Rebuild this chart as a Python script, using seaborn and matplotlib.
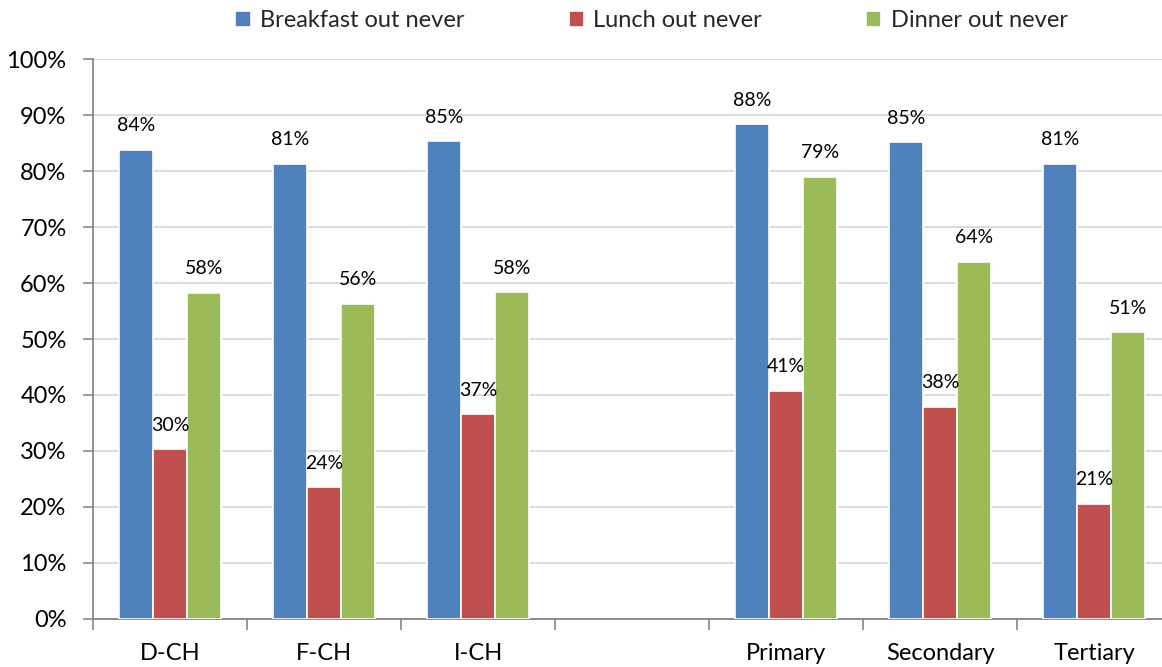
import matplotlib
matplotlib.use("Agg")
import matplotlib.pyplot as plt
from matplotlib.ticker import FixedLocator, PercentFormatter
import numpy as np
import pandas as pd
import seaborn as sns

# Share of respondents who never eat each meal out, by group
groups = ["D-CH", "F-CH", "I-CH", " ", "Primary", "Secondary", "Tertiary"]
breakfast = [83.8, 81.3, 85.3, np.nan, 88.4, 85.1, 81.3]
lunch = [30.3, 23.6, 36.6, np.nan, 40.8, 37.9, 20.6]
dinner = [58.3, 56.3, 58.4, np.nan, 79.0, 63.8, 51.2]
series_names = ["Breakfast out never", "Lunch out never", "Dinner out never"]
colors = ["#4F81BD", "#C0504D", "#9BBB59"]
y_ticks = [0, 10, 20, 30, 40, 50, 60, 70, 80, 90, 100]

df = pd.DataFrame({
    "group": groups * 3,
    "meal": [series_names[0]] * 7 + [series_names[1]] * 7 + [series_names[2]] * 7,
    "value": breakfast + lunch + dinner,
})

sns.set_theme(style="white")
plt.rcParams["font.family"] = ["Lato", "DejaVu Sans"]

fig = plt.figure(figsize=(11.62, 6.67), dpi=100)
ax = fig.add_axes([0.080, 0.072, 0.928, 0.8395])

sns.barplot(
    data=df, x="group", y="value", hue="meal", order=groups,
    hue_order=series_names, palette=colors, width=0.66, gap=0,
    edgecolor="white", linewidth=1.2, saturation=1, ax=ax, zorder=3,
    errorbar=None,
)

# Value labels above each bar
for container in ax.containers:
    labels = ["" if np.isnan(v) else f"{v:.0f}%" for v in container.datavalues]
    ax.bar_label(container, labels=labels, padding=11, fontsize=14, color="black")

ax.set_ylim(0, 100)
ax.set_xlim(-0.5, len(groups) - 0.5)
ax.set_yticks(y_ticks)
ax.yaxis.set_major_formatter(PercentFormatter(decimals=0))
ax.set_xlabel("")
ax.set_ylabel("")

# Category labels centred, tick marks at group boundaries
ax.set_xticks(range(len(groups)))
ax.set_xticklabels(groups)
ax.xaxis.set_minor_locator(FixedLocator(np.arange(-0.5, len(groups), 1.0)))
ax.tick_params(axis="x", which="major", length=0, labelsize=17, pad=17, colors="black")
ax.tick_params(axis="x", which="minor", length=8, width=1.2, color="#868686", bottom=True)
ax.tick_params(axis="y", which="major", length=7, width=1.2, labelsize=17,
               left=True, pad=12)
ax.tick_params(axis="y", labelcolor="black", color="#868686")

ax.grid(axis="y", color="#D9D9D9", linewidth=1.3, zorder=0)
ax.set_axisbelow(True)
for side in ["top", "right"]:
    ax.spines[side].set_visible(False)
for side in ["left", "bottom"]:
    ax.spines[side].set_color("#868686")
    ax.spines[side].set_linewidth(1.3)

leg = ax.legend(
    loc="center", bbox_to_anchor=(0.518, 1.068), ncol=3, frameon=False,
    fontsize=17, handlelength=0.65, handleheight=0.65, handletextpad=0.4,
    columnspacing=4.4,
)

fig.savefig("out.png", dpi=100)
